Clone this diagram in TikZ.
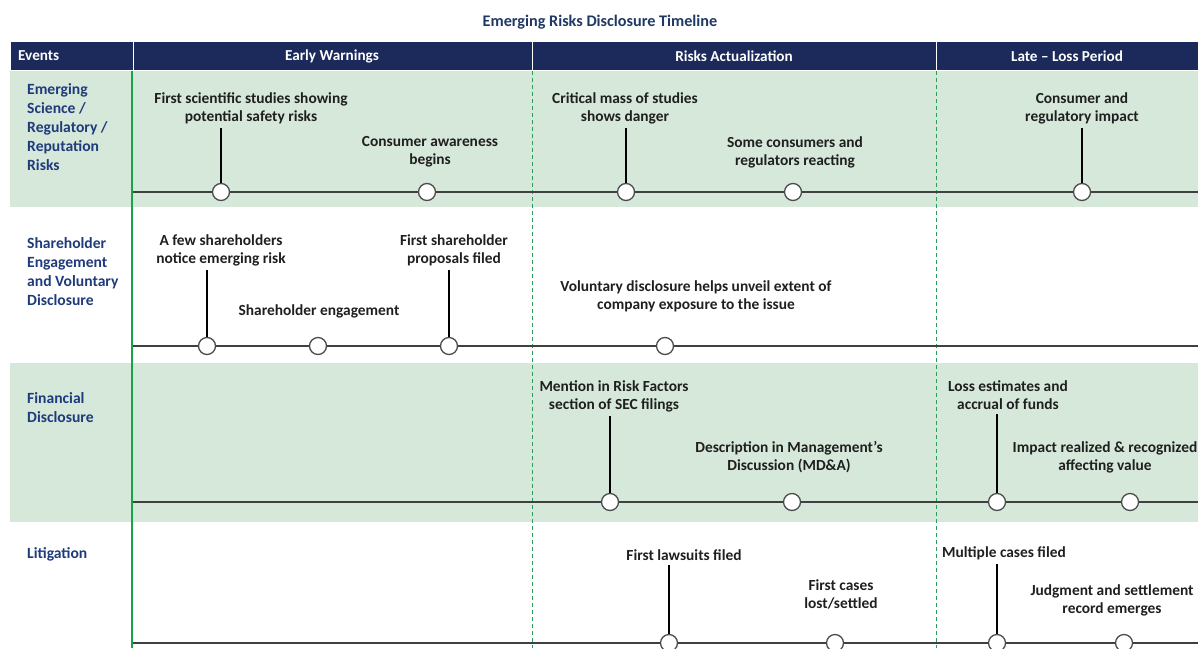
\documentclass[tikz,border=0pt]{standalone}
\usepackage{fontspec}
\setmainfont{Carlito}
\usepackage{tikz}
\usetikzlibrary{arrows,shapes}
\pgfdeclarelayer{background}
\pgfsetlayers{background,main}
\definecolor{navy}{HTML}{1B2A5B}
\definecolor{bandgreen}{HTML}{D6E8DA}
\definecolor{rowblue}{HTML}{1F3B7C}
\definecolor{titleblue}{HTML}{1F3864}
\definecolor{railgreen}{HTML}{17A548}
\definecolor{dashgreen}{HTML}{2A9D5C}
\tikzstyle{event}=[circle, draw=black!70
,fill=white
,minimum size=17pt
,inner sep=0pt
,line width=1.3pt
]
\tikzstyle{note}=[align=center, inner sep=4pt
,font=\fontsize{15.4}{18}\selectfont\bfseries
,text=black!88
]
\tikzstyle{row title}=[anchor=west, align=left, inner sep=0pt
,font=\fontsize{15.6}{19}\selectfont\bfseries
,text=rowblue
]
\tikzstyle{head}=[text=white, font=\fontsize{15.2}{18}\selectfont\bfseries]
\tikzstyle{edge} = [draw,line width=1.3pt,-]
\tikzstyle{rail} = [draw,line width=1.5pt,black!75]
\tikzstyle{phase} = [draw,dashgreen,line width=0.8pt,dash pattern=on 4pt off 3pt]

\begin{document}
\begin{tikzpicture}[x=1pt,y=-1pt]
    \clip (0,0) rectangle (1198,648);
    \useasboundingbox (0,0) rectangle (1198,648);

    % Title and header bar
    \node[font=\fontsize{16.2}{18}\selectfont\bfseries, text=titleblue] (title) at (600,22) {Emerging Risks Disclosure Timeline};
    \fill[navy] (11,42) rectangle (1198,70);
    \foreach \x in {133,532,936}
        \draw[white, line width=1pt] (\x,42) -- (\x,70);
    \node[head, anchor=west, inner sep=0pt] (events) at (18,56) {Events};
    \foreach \pos/\name/\txt in {{(332,56)/early/Early Warnings}, {(734,56)/actual/Risks Actualization}, {(1067,56)/late/Late -- Loss Period}}
        \node[head] (\name) at \pos {\txt};

    % Bands, phase lines and rails go behind the events
    \begin{pgfonlayer}{background}
        \fill[bandgreen] (10,71) rectangle (1198,207);
        \fill[bandgreen] (10,363) rectangle (1198,522);
        \foreach \x in {532,936}
            \path[phase] (\x,71) -- (\x,648);
        \draw[railgreen, line width=2.6pt] (132,71) -- (132,648);
        \foreach \y in {192,346,502,643}
            \path[rail] (133,\y) -- (1198,\y);
    \end{pgfonlayer}

    % Row titles
    \node[row title] (science) at (27,127) {Emerging\\Science /\\Regulatory /\\Reputation\\Risks};
    \node[row title] (engage) at (27,272) {Shareholder\\Engagement\\and Voluntary\\Disclosure};
    \node[row title] (financial) at (27,408) {Financial\\Disclosure};
    \node[row title] (litigation) at (27,554) {Litigation};

    % First we draw the events
    \foreach \pos/\name in {{(221,192)/risk1}, {(427,192)/risk2}, {(626,192)/risk3}, {(793,192)/risk4}, {(1082,192)/risk5},
                            {(207,346)/share1}, {(318,346)/share2}, {(449,346)/share3}, {(665,346)/share4},
                            {(610,502)/fin1}, {(792,502)/fin2}, {(997,502)/fin3}, {(1130,502)/fin4},
                            {(669,643)/lit1}, {(835,643)/lit2}, {(997,643)/lit3}, {(1124,643)/lit4}}
        \node[event] (\name) at \pos {};

    % Then the notes above them
    \foreach \pos/\name/\txt in {{(251,108.5)/risk1/{First scientific studies showing\\potential safety risks}},
                                 {(430,152)/risk2/{Consumer awareness\\begins}},
                                 {(625,108.5)/risk3/{Critical mass of studies\\shows danger}},
                                 {(795,152)/risk4/{Some consumers and\\regulators reacting}},
                                 {(1082,108.5)/risk5/{Consumer and\\regulatory impact}},
                                 {(221,250)/share1/{A few shareholders\\notice emerging risk}},
                                 {(319,311)/share2/{Shareholder engagement}},
                                 {(454,250)/share3/{First shareholder\\proposals filed}},
                                 {(696,296)/share4/{Voluntary disclosure helps unveil extent of\\company exposure to the issue}},
                                 {(614,396.5)/fin1/{Mention in Risk Factors\\section of SEC filings}},
                                 {(789,457)/fin2/{Description in Management's\\Discussion (MD\&A)}},
                                 {(1008,395.5)/fin3/{Loss estimates and\\accrual of funds}},
                                 {(1105,457)/fin4/{Impact realized \& recognized\\affecting value}},
                                 {(684,555)/lit1/{First lawsuits filed}},
                                 {(841,594)/lit2/{First cases\\lost/settled}},
                                 {(1004,553)/lit3/{Multiple cases filed}},
                                 {(1112,600)/lit4/{Judgment and settlement\\record emerges}}}
        \node[note] (\name-note) at \pos {\txt};

    % Connect events with their notes
    \foreach \name in {risk1, risk3, risk5, share1, share3, fin1, fin3, lit1, lit3}
        \path[edge] (\name) -- (\name |- \name-note.south);

\end{tikzpicture}
\end{document}
